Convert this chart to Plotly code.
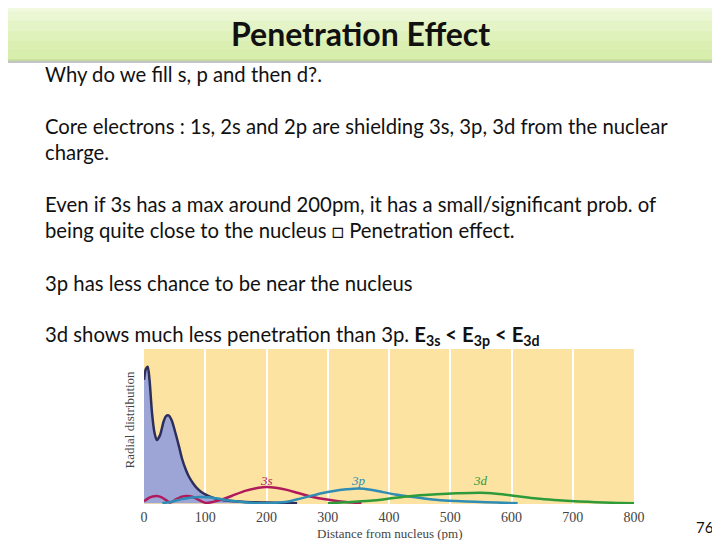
import plotly.graph_objects as go

# ---- data ----
core_x = [0, 3, 6, 9, 13, 17, 21, 26, 32, 36, 40, 45, 51, 57, 62, 68, 73, 80, 86, 93, 100, 110, 121, 135, 154, 175, 200, 230, 250]
core_y = [0.80, 0.87, 0.885, 0.80, 0.59, 0.46, 0.41, 0.44, 0.53, 0.565, 0.57, 0.54, 0.46, 0.37, 0.29, 0.22, 0.175, 0.13, 0.10, 0.075, 0.058, 0.04, 0.026, 0.018, 0.012, 0.007, 0.004, 0.001, 0.0]

s3_x = [0, 8, 14, 21, 28, 36, 43, 52, 62, 70, 80, 90, 101, 112, 124, 143, 165, 187, 200, 215, 235, 250, 266, 285, 309, 330, 348, 355]
s3_y = [0.012, 0.035, 0.044, 0.047, 0.04, 0.02, 0.004, 0.025, 0.043, 0.047, 0.04, 0.02, 0.002, 0.008, 0.02, 0.047, 0.08, 0.10, 0.105, 0.10, 0.085, 0.068, 0.05, 0.032, 0.018, 0.008, 0.002, 0.0]

p3_x = [30, 45, 60, 75, 90, 105, 120, 140, 160, 180, 200, 220, 240, 255, 270, 290, 310, 330, 350, 370, 390, 410, 430, 455, 480, 510, 540, 575, 610]
p3_y = [0.0, 0.01, 0.025, 0.035, 0.04, 0.038, 0.03, 0.018, 0.008, 0.002, 0.0, 0.004, 0.015, 0.03, 0.045, 0.065, 0.08, 0.09, 0.096, 0.088, 0.072, 0.057, 0.045, 0.032, 0.021, 0.014, 0.009, 0.004, 0.0]

d3_x = [300, 330, 369, 400, 424, 450, 478, 510, 549, 575, 598, 620, 641, 670, 696, 725, 750, 775, 800]
d3_y = [0.0, 0.006, 0.016, 0.03, 0.042, 0.052, 0.058, 0.064, 0.068, 0.062, 0.052, 0.04, 0.03, 0.021, 0.015, 0.009, 0.005, 0.002, 0.0]

x_ticks = [0, 100, 200, 300, 400, 500, 600, 700, 800]
orbital_labels = ["3s", "3p", "3d"]
orbital_label_x = [200, 350, 550]

# ---- layout geometry (screen pixels; page body has an 8px margin) ----
OFF = 8
W, H = 720 - OFF, 540 - OFF
PL, PR, PT, PB = 143.5, 634.3, 349, 504   # plot area on screen
L = PL - OFF
T = PT - OFF
R = W - (PR - OFF)
B = H - (PB - OFF)
PW = W - L - R
PH = H - T - B


def px(x):
    return (x - OFF - L) / PW


def py(y):
    return (H - B - (y - OFF)) / PH


serif = "Liberation Serif, Times New Roman, serif"
sans = "Lato, Open Sans, sans-serif"

fig = go.Figure()

fig.add_trace(go.Scatter(x=core_x, y=core_y, mode="lines", fill="tozeroy",
                         fillcolor="#9da4d6", line=dict(color="#2c2e5c", width=2.5, shape="spline", smoothing=0.8),
                         hoverinfo="skip", showlegend=False))
fig.add_trace(go.Scatter(x=s3_x, y=s3_y, mode="lines",
                         line=dict(color="#b01a5c", width=2.5, shape="spline", smoothing=0.8),
                         showlegend=False))
fig.add_trace(go.Scatter(x=p3_x, y=p3_y, mode="lines",
                         line=dict(color="#2f8cb4", width=2.5, shape="spline", smoothing=0.8),
                         showlegend=False))
fig.add_trace(go.Scatter(x=d3_x, y=d3_y, mode="lines",
                         line=dict(color="#2e9b3a", width=2.5, shape="spline", smoothing=0.8),
                         showlegend=False))

label_colors = ["#b01a5c", "#2f8cb4", "#2e9b3a"]
annotations = []
for lab, lx, c in zip(orbital_labels, orbital_label_x, label_colors):
    annotations.append(dict(x=lx, y=0.15, xref="x", yref="y", text="<i>%s</i>" % lab,
                            showarrow=False, font=dict(family=serif, size=13, color=c)))

# slide text
body = [
    (74, "Why do we fill s, p and then d?."),
    (126, "Core electrons : 1s, 2s and 2p are shielding 3s, 3p, 3d from the nuclear"),
    (152, "charge."),
    (204, "Even if 3s has a max around 200pm, it has a small/significant prob. of"),
    (230, "being quite close to the nucleus \u25a1 Penetration effect."),
    (283, "3p has less chance to be near the nucleus"),
    (335, "3d shows much less penetration than 3p. <b>E<sub>3s</sub> &lt; E<sub>3p</sub> &lt; E<sub>3d</sub></b>"),
]
for yy, t in body:
    annotations.append(dict(x=px(42), y=py(yy), xref="paper", yref="paper", xanchor="left", yanchor="middle",
                            text=t, showarrow=False, font=dict(family=sans, size=20.3, color="#111111")))

annotations.append(dict(x=px(360), y=py(33), xref="paper", yref="paper", text="<b>Penetration Effect</b>",
                        showarrow=False, xanchor="center", yanchor="middle",
                        font=dict(family=sans, size=32, color="#111111")))
annotations.append(dict(x=px(128), y=py(420), xref="paper", yref="paper", text="Radial distribution",
                        showarrow=False, textangle=-90, xanchor="center", yanchor="middle",
                        font=dict(family=serif, size=13, color="#444444")))
annotations.append(dict(x=px(389), y=py(533), xref="paper", yref="paper", text="Distance from nucleus (pm)",
                        showarrow=False, xanchor="center", yanchor="middle",
                        font=dict(family=serif, size=13, color="#444444")))
annotations.append(dict(x=px(705), y=py(527), xref="paper", yref="paper", text="76",
                        showarrow=False, xanchor="center", yanchor="middle",
                        font=dict(family=sans, size=15, color="#111111")))

# title banner: shadow, vertical gradient bands, border
shapes = [
    dict(type="rect", xref="paper", yref="paper", x0=px(4), x1=px(716), y0=py(63), y1=py(4),
         fillcolor="#c4c4c4", line=dict(width=0), layer="below"),
]
band_cols = ["#f1f9df", "#ebf7d2", "#e5f4c6", "#e0f2bc", "#dbefb3", "#d7eeac"]
band_h = 58 / len(band_cols)
for i, c in enumerate(band_cols):
    shapes.append(dict(type="rect", xref="paper", yref="paper", x0=px(2), x1=px(714),
                       y0=py(2 + (i + 1) * band_h + 0.5), y1=py(2 + i * band_h),
                       fillcolor=c, line=dict(width=0), layer="below"))
shapes.append(dict(type="rect", xref="paper", yref="paper", x0=px(2), x1=px(714), y0=py(60), y1=py(2),
                   fillcolor="rgba(0,0,0,0)", line=dict(color="#b9d88e", width=1), layer="below"))

fig.update_layout(
    width=W, height=H,
    margin=dict(l=L, r=R, t=T, b=B, autoexpand=False),
    paper_bgcolor="white",
    plot_bgcolor="#fce3a2",
    annotations=annotations,
    shapes=shapes,
    xaxis=dict(range=[0, 800], tickvals=x_ticks, showgrid=True, gridcolor="white", gridwidth=1.5,
               zeroline=False, showline=False, ticks="", ticklen=0, automargin=False,
               ticklabelstandoff=3,
               tickfont=dict(family=serif, size=14, color="#444444")),
    yaxis=dict(range=[-0.005, 1.0], showticklabels=False, showgrid=False, zeroline=False, showline=False,
               automargin=False),
)

fig.write_html("out.html")
